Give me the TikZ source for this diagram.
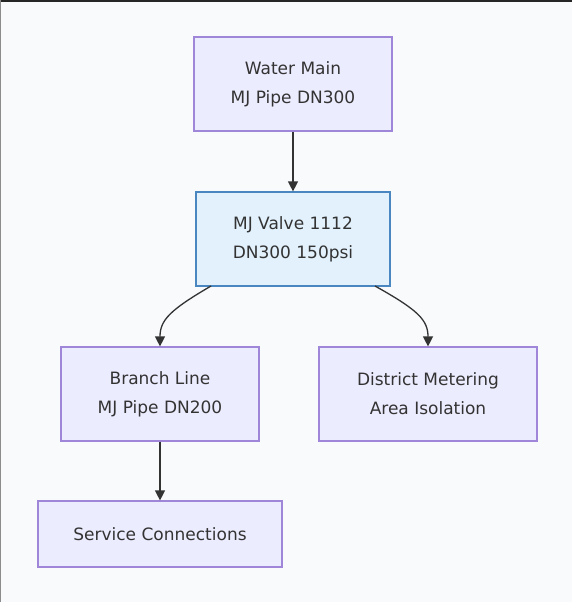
\documentclass[tikz,border=0pt]{standalone}
\usepackage{fontspec}
\setmainfont{DejaVu Sans}
\usetikzlibrary{arrows.meta}
\definecolor{bgc}{HTML}{F8FAFC}
\definecolor{pfill}{HTML}{ECECFF}
\definecolor{pline}{HTML}{9F86D9}
\definecolor{bfill}{HTML}{E2F1FC}
\definecolor{bline}{HTML}{4A86BF}
\definecolor{txt}{HTML}{333333}
\tikzset{
  box/.style={draw=pline, fill=pfill, line width=1.2pt, inner sep=0pt, align=center, text=txt, font=\fontsize{17}{29}\selectfont},
  vbox/.style={box, draw=bline, fill=bfill},
  link/.style={draw=txt, line width=1.3pt, -{Triangle[length=10pt,width=10pt]}},
}
\begin{document}
\begin{tikzpicture}[x=1pt,y=-1pt]
\fill[bgc] (0,0) rectangle (572,602);
\useasboundingbox (0,0) rectangle (572,602);
\fill[black!85] (0,0) rectangle (572,2.5);
\fill[black!45] (0,0) rectangle (1.2,602);
\node[box, minimum width=198pt, minimum height=94pt] (wm) at (293,84) {Water Main\\MJ Pipe DN300};
\node[vbox, minimum width=194pt, minimum height=94pt] (vl) at (293,239) {MJ Valve 1112\\DN300 150psi};
\node[box, minimum width=198pt, minimum height=94pt] (br) at (160,394) {Branch Line\\MJ Pipe DN200};
\node[box, minimum width=218pt, minimum height=94pt] (dm) at (428,394) {District Metering\\Area Isolation};
\node[box, minimum width=244pt, minimum height=66pt] (sc) at (160,534) {Service Connections};
\draw[link] (wm.south) -- (vl.north);
\coordinate (v1) at (211,286);
\coordinate (v2) at (375,286);
\draw[link] (v1) .. controls (170,310) and (160,320) .. (br.north);
\draw[link] (v2) .. controls (418,310) and (428,320) .. (dm.north);
\draw[link] (br.south) -- (sc.north);
\end{tikzpicture}
\end{document}
